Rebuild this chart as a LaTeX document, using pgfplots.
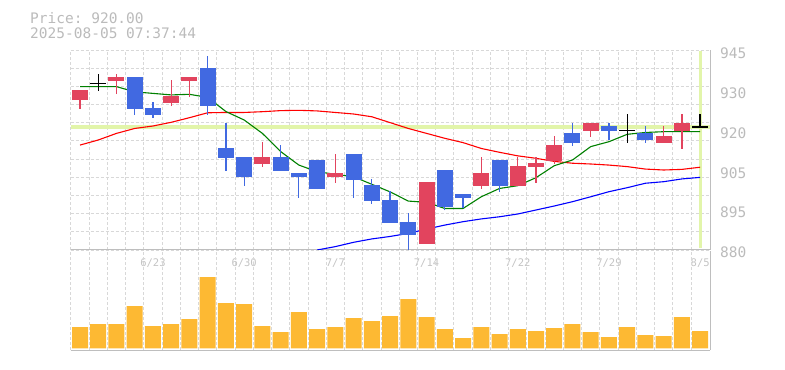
\documentclass[border=0pt]{standalone}
\usepackage{pgfplots}
\pgfplotsset{compat=1.18}
\usepackage{pgfplotstable}
\usepackage{fontspec}
\setmainfont{DejaVu Sans}
\setmonofont{DejaVu Sans Mono}

\definecolor{upc}{RGB}{226,68,94}
\definecolor{dnc}{RGB}{65,105,225}
\definecolor{gridc}{RGB}{216,216,216}
\definecolor{framec}{RGB}{190,190,190}
\definecolor{txtc}{RGB}{187,187,187}
\definecolor{datec}{RGB}{196,196,196}
\definecolor{pricec}{RGB}{226,245,170}
\definecolor{volc}{RGB}{253,185,51}
\definecolor{magreen}{RGB}{0,128,0}
\definecolor{mared}{RGB}{255,0,0}
\definecolor{mablue}{RGB}{0,0,255}

\newcommand{\bigf}{\fontsize{14.5bp}{16bp}\selectfont\ttfamily}
\newcommand{\smallf}{\fontsize{10.5bp}{12bp}\selectfont\ttfamily}

% up candles (red): index open high low close
\pgfplotstableread{
i O H L C
0 928.75 932.0 925.9 932.0
2 935.0 937.2 930.7 936.2
5 927.9 935.25 926.8 930.05
6 935.0 936.2 929.8 936.2
10 908.05 915.1 907.1 910.2
14 903.8 911.2 901.9 905.0
19 881.95 902.1 881.95 902.1
22 900.9 910.2 899.9 905.0
24 900.9 910.2 900.9 907.3
25 907.1 910.2 901.9 908.3
26 908.9 917.05 908.0 914.1
28 918.8 921.3 916.8 921.3
32 914.9 920.3 914.9 917.05
33 918.8 924.2 912.9 921.3
}\up

% down candles (blue)
\pgfplotstableread{
i O H L C
3 936.2 936.2 924.0 925.9
4 926.2 928.1 923.0 924.0
7 939.15 943.05 924.0 926.9
8 913.15 921.3 905.8 910.0
9 910.2 910.2 900.9 903.8
11 910.2 914.1 905.8 905.8
12 905.0 905.0 897.0 903.8
13 909.25 909.25 899.8 899.8
15 911.2 911.2 897.0 902.85
16 901.1 903.0 895.0 896.0
17 896.25 899.3 888.9 888.9
18 889.1 892.0 879.8 885.0
20 906.0 906.0 892.9 894.0
21 898.2 898.2 893.65 897.0
23 909.25 909.25 899.0 900.9
27 918.0 921.3 913.9 914.9
29 920.3 921.3 915.85 918.8
31 918.0 920.3 914.9 915.85
}\down

% doji candles (black)
\pgfplotstableread{
i O H L C
1 934.2 937.2 931.8 934.2
30 918.8 924.2 914.9 918.8
34 920.0 924.2 920.0 920.0
}\doji

\pgfplotstableread{
i v
0 933.1
1 933.1
2 933.1
3 931.4
4 930.9
5 930.4
6 930.6
7 929.6
8 925.0
9 922.25
10 917.9
11 912.0
12 907.6
13 905.45
14 904.6
15 903.8
16 901.35
17 898.9
18 895.9
19 895.5
20 893.5
21 893.5
22 897.3
23 900.0
24 900.9
25 903.5
26 907.4
27 909.25
28 913.6
29 915.2
30 917.6
31 918.2
32 918.45
33 918.45
34 918.45
}\magr

\pgfplotstableread{
i v
0 914.1
1 915.75
2 917.9
3 919.5
4 920.3
5 921.5
6 923.0
7 924.6
8 924.7
9 924.7
10 924.95
11 925.3
12 925.4
13 925.2
14 924.7
15 924.2
16 923.3
17 921.4
18 919.5
19 917.9
20 916.3
21 914.9
22 913.0
23 911.75
24 910.6
25 909.8
26 908.8
27 908.2
28 907.95
29 907.6
30 907.1
31 906.3
32 906.0
33 906.2
34 906.9
}\mar

\pgfplotstableread{
i v
13 880.0
14 881.1
15 882.5
16 883.6
17 884.4
18 885.4
19 886.8
20 888.1
21 889.2
22 890.1
23 890.8
24 891.7
25 893.0
26 894.3
27 895.7
28 897.3
29 898.95
30 900.25
31 901.7
32 902.2
33 903.1
34 903.6
}\mab

\pgfplotstableread{
i v
0 21.3
1 24.3
2 24.3
3 42.3
4 22.3
5 24.3
6 29.3
7 71.3
8 45.3
9 44.3
10 22.3
11 16.3
12 36.3
13 19.3
14 21.3
15 30.3
16 27.3
17 32.3
18 49.3
19 31.3
20 19.3
21 10.3
22 21.3
23 14.3
24 19.3
25 17.3
26 20.3
27 24.3
28 16.3
29 11.3
30 21.3
31 13.3
32 12.3
33 31.3
34 17.3
}\vol

\begin{document}
\begin{tikzpicture}
\path[use as bounding box] (0,0) rectangle (785bp,370bp);
\node[anchor=base west, inner sep=0pt, text=txtc, font=\bigf] at (30bp,346.7bp) {Price: 920.00};
\node[anchor=base west, inner sep=0pt, text=txtc, font=\bigf] at (30bp,331.3bp) {2025-08-05 07:37:44};

\begin{axis}[
  at={(70.7bp,120bp)}, anchor=south west,
  width=639.3bp, height=200bp, scale only axis,
  xmin=-0.51, xmax=34.54, ymin=880, ymax=945,
  axis x line*=bottom, axis y line*=right,
  axis line style={framec, line width=1bp, -},
  xtick={-0.5,0.5,1.5,2.5,3.5,4.5,5.5,6.5,7.5,8.5,9.5,10.5,11.5,12.5,13.5,14.5,15.5,16.5,17.5,18.5,19.5,20.5,21.5,22.5,23.5,24.5,25.5,26.5,27.5,28.5,29.5,30.5,31.5,32.5,33.5},
  xticklabels={},
  ytick={880,885.909,891.818,897.727,903.636,909.545,915.455,921.364,927.273,933.182,939.091,945},
  yticklabels={},
  grid=major,
  major grid style={gridc, dash pattern=on 3bp off 2bp, line width=0.9bp},
  major tick length=0pt,
  yticklabel pos=right,
  extra x ticks={4,9,14,19,24,29,34},
  extra x tick labels={6/23,6/30,7/7,7/14,7/22,7/29,8/5},
  extra x tick style={grid=none, major tick length=0pt,
     xticklabel style={anchor=base, inner sep=0pt, yshift=-16.5bp, font=\smallf, text=datec}},
  extra y ticks={880,893,906,919,932,945},
  extra y tick labels={880,895,905,920,930,945},
  extra y tick style={grid=none, major tick length=0pt,
     yticklabel style={anchor=base west, inner sep=0pt, xshift=10bp, yshift=-8bp, font=\bigf, text=txtc}},
]
% current price lines
\addplot[pricec, line width=3.3bp] coordinates {(-0.51,920) (34.54,920)};
\addplot[pricec, line width=3bp] coordinates {(34,880.5) (34,944.6)};
% moving averages
\addplot[mared, line width=1.1bp] table[x=i, y=v] \mar;
\addplot[magreen, line width=1.1bp] table[x=i, y=v] \magr;
\addplot[mablue, line width=1.1bp] table[x=i, y=v] \mab;
% wicks
\addplot[draw=none, mark=none, error bars/.cd, y dir=plus, y explicit, error mark=none,
  error bar style={draw=upc, line width=1.2bp}]
  table[x=i, y=L, y error expr=\thisrow{H}-\thisrow{L}] \up;
\addplot[draw=none, mark=none, error bars/.cd, y dir=plus, y explicit, error mark=none,
  error bar style={draw=dnc, line width=1.2bp}]
  table[x=i, y=L, y error expr=\thisrow{H}-\thisrow{L}] \down;
\addplot[draw=none, mark=none, error bars/.cd, y dir=plus, y explicit, error mark=none,
  error bar style={draw=black, line width=1.4bp}]
  table[x=i, y=L, y error expr=\thisrow{H}-\thisrow{L}] \doji;
% bodies
\addplot[draw=none, mark=none, error bars/.cd, y dir=plus, y explicit, error mark=none,
  error bar style={draw=upc, line width=16bp}]
  table[x=i, y=O, y error expr=\thisrow{C}-\thisrow{O}] \up;
\addplot[draw=none, mark=none, error bars/.cd, y dir=plus, y explicit, error mark=none,
  error bar style={draw=dnc, line width=16bp}]
  table[x=i, y=C, y error expr=\thisrow{O}-\thisrow{C}] \down;
\addplot[draw=none, mark=none, error bars/.cd, x dir=both, x fixed=0.4386, error mark=none,
  error bar style={draw=black, line width=1.4bp}]
  table[x=i, y=O] \doji;
\end{axis}

\begin{axis}[
  at={(70.7bp,20bp)}, anchor=south west,
  width=639.3bp, height=99bp, scale only axis,
  xmin=-0.51, xmax=34.54, ymin=-1.7, ymax=97.3,
  axis x line*=bottom, axis y line*=right,
  axis line style={framec, line width=1bp, -},
  xtick={-0.5,0.5,1.5,2.5,3.5,4.5,5.5,6.5,7.5,8.5,9.5,10.5,11.5,12.5,13.5,14.5,15.5,16.5,17.5,18.5,19.5,20.5,21.5,22.5,23.5,24.5,25.5,26.5,27.5,28.5,29.5,30.5,31.5,32.5,33.5},
  xticklabels={},
  ytick=\empty,
  xmajorgrids,
  major grid style={gridc, dash pattern=on 3bp off 2bp, line width=0.9bp},
  major tick length=0pt,
]
\addplot[ybar, bar width=16bp, fill=volc, draw=none] table[x=i, y=v] \vol;
\end{axis}
\end{tikzpicture}
\end{document}
